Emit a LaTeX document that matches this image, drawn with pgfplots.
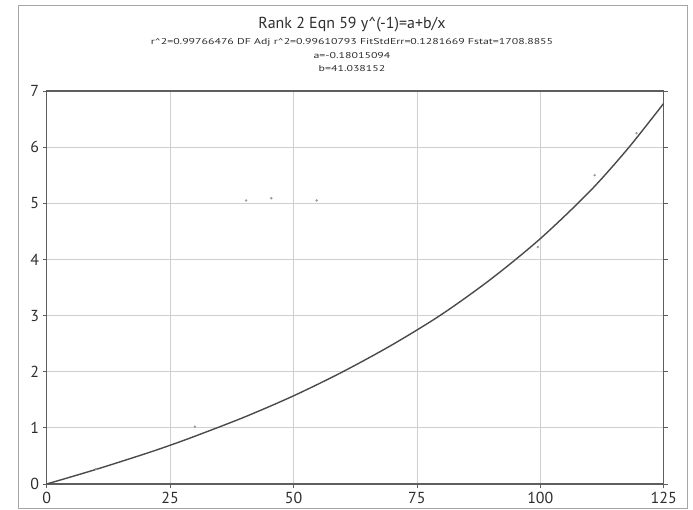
\documentclass[border=0pt]{standalone}
\usepackage{pgfplots}
\pgfplotsset{compat=1.18}
\usepackage{fontspec}
\setmainfont{PT Sans}
\definecolor{txt}{HTML}{2E2E2E}
\definecolor{axl}{HTML}{5E5E5E}
\definecolor{grd}{HTML}{CFCFCF}
\definecolor{crv}{HTML}{4A4A4A}
\definecolor{dot}{HTML}{9A9A9A}
\begin{document}
\begin{tikzpicture}
\useasboundingbox (0,0) rectangle (693bp,510bp);
\draw[color=grd!80!black, line width=0.8bp] (18bp,2bp) rectangle (687bp,505bp);
\node[text=txt, font=\fontsize{16}{18}\selectfont] at (352bp,485bp) {Rank 2 Eqn 59 y\^{}(-1)=a+b/x};
\node[text=txt, font=\fontsize{8.5}{9}\selectfont] at (352bp,468bp) {\scalebox{1.4}[1]{r\^{}2=0.99766476 DF Adj r\^{}2=0.99610793 FitStdErr=0.1281669 Fstat=1708.8855}};
\node[text=txt, font=\fontsize{8.5}{9}\selectfont] at (352bp,454bp) {\scalebox{1.4}[1]{a=-0.18015094}};
\node[text=txt, font=\fontsize{8.5}{9}\selectfont] at (352bp,441bp) {\scalebox{1.4}[1]{b=41.038152}};
\begin{axis}[
  at={(46.7bp,26bp)}, anchor=south west,
  scale only axis, width=617bp, height=393bp,
  xmin=0, xmax=125, ymin=0, ymax=7,
  xtick={0,25,50,75,100,125}, ytick={0,1,2,3,4,5,6,7},
  grid=major,
  major grid style={color=grd, line width=0.8bp},
  axis line style={color=axl, line width=1.1bp},
  tick style={color=axl, line width=0.8bp},
  tick align=outside, major tick length=4bp,
  xtick pos=bottom, ytick pos=both,
  /pgf/number format/assume math mode=true,
  tick label style={text=txt, font=\fontsize{16}{16}\selectfont},
  xticklabel style={yshift=-1bp},
]
\addplot[color=crv, line width=1.4bp, smooth, no marks] coordinates {
  (0,0) (10,0.26) (20,0.54) (25,0.69) (30,0.85) (40,1.19) (50,1.57)
  (60,2.0) (70,2.48) (80,3.02) (90,3.65) (100,4.37) (110,5.21)
  (117.7,5.97) (125,6.78)
};
\addplot[only marks, mark=*, mark size=1bp, color=dot] coordinates {
  (10,0.27) (30,1.02) (40.4,5.05) (45.5,5.09) (54.7,5.05)
  (99.5,4.22) (111,5.5) (119.5,6.25)
};
\end{axis}
\end{tikzpicture}
\end{document}
